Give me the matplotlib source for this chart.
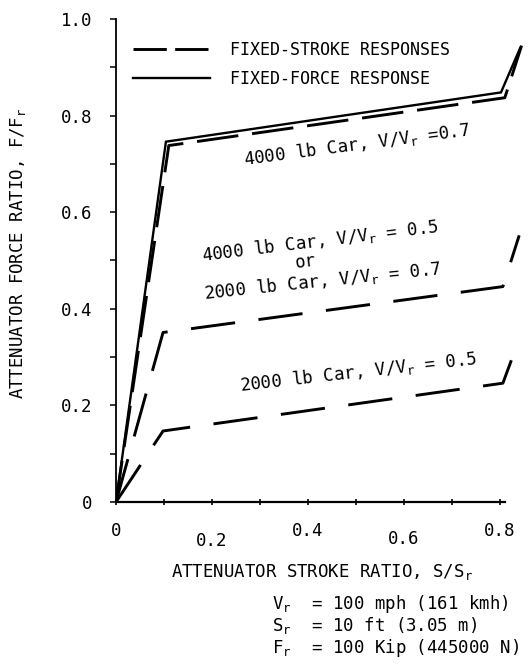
import numpy as np
import matplotlib
matplotlib.use('Agg')
import matplotlib.pyplot as plt
from matplotlib.lines import Line2D

plt.rcParams['font.family'] = ['DejaVu Sans Mono', 'DejaVu Sans']
plt.rcParams['mathtext.fontset'] = 'custom'
plt.rcParams['mathtext.rm'] = 'DejaVu Sans Mono'
plt.rcParams['lines.scale_dashes'] = False

# stroke ratio / force ratio
force_x = [0.0, 0.104, 0.802, 0.842]
force_y = [0.0, 0.746, 0.848, 0.940]

stroke_4000_07_x = [0.0, 0.110, 0.810, 0.845]
stroke_4000_07_y = [0.0, 0.738, 0.837, 0.945]

stroke_mid_x = [0.0, 0.098, 0.806, 0.840]
stroke_mid_y = [0.0, 0.351, 0.446, 0.552]

stroke_low_x = [0.0, 0.098, 0.806, 0.835]
stroke_low_y = [0.0, 0.147, 0.246, 0.324]

x_ticks = [0, 0.2, 0.4, 0.6, 0.8]
x_labels = ['0', '0.2', '0.4', '0.6', '0.8']
y_ticks = [0, 0.2, 0.4, 0.6, 0.8, 1.0]
y_labels = ['0', '0.2', '0.4', '0.6', '0.8', '1.0']

notes = [r'V$_\mathrm{r}$  = 100 mph (161 kmh)',
         r'S$_\mathrm{r}$  = 10 ft (3.05 m)',
         r'F$_\mathrm{r}$  = 100 Kip (445000 N)']

fs = 12.5
fig = plt.figure(figsize=(5.31, 6.68), dpi=100)
ax = fig.add_axes([116 / 531, 166 / 668, 408 / 531, 483 / 668])

ax.plot(force_x, force_y, color='black', lw=1.7, solid_joinstyle='miter')
ax.plot(stroke_4000_07_x, stroke_4000_07_y, color='black', lw=2.1, dashes=(30, 10))
ax.plot(stroke_mid_x, stroke_mid_y, color='black', lw=2.1, dashes=(32, 17))
ax.plot(stroke_low_x, stroke_low_y, color='black', lw=2.1, dashes=(32, 17))

ax.set_xlim(0, 0.85)
ax.set_ylim(0, 1.0)
for s in ['top', 'right']:
    ax.spines[s].set_visible(False)
ax.spines['bottom'].set_bounds(0, 0.81)
ax.spines['left'].set_bounds(0, 1.0)
ax.spines['bottom'].set_linewidth(1.6)
ax.spines['left'].set_linewidth(1.3)

ax.set_xticks(x_ticks)
ax.set_xticklabels(x_labels)
ax.set_xticks(np.arange(0.1, 0.81, 0.2), minor=True)
ax.set_yticks(y_ticks)
ax.set_yticklabels(y_labels)
ax.set_yticks(np.arange(0.1, 1.0, 0.2), minor=True)

ax.tick_params(axis='x', which='both', direction='inout', length=5, width=1.2,
               labelsize=fs, pad=12)
ax.tick_params(axis='y', which='both', direction='out', length=4.5, width=1.1,
               labelsize=fs, pad=12.5)
# typed labels sit a little lower for 0.2 and 0.6
xt = ax.xaxis.get_major_ticks()
xt[1].set_pad(19)
xt[3].set_pad(18)

ax.set_xlabel(r'ATTENUATOR STROKE RATIO, S/S$_\mathrm{r}$', fontsize=fs)
ax.xaxis.set_label_coords(0.505, -0.124)
ax.set_ylabel(r'ATTENUATOR FORCE RATIO, F/F$_\mathrm{r}$', fontsize=fs)
ax.yaxis.set_label_coords(-0.216, 0.515)

# curve labels
ax.text(0.504, 0.729, r'4000 lb Car, V/V$_\mathrm{r}$ =0.7', fontsize=fs,
        rotation=7.5, rotation_mode='anchor', ha='center', va='baseline')
ax.text(0.427, 0.530, r'4000 lb Car, V/V$_\mathrm{r}$ = 0.5', fontsize=fs,
        rotation=7, rotation_mode='anchor', ha='center', va='baseline')
ax.text(0.396, 0.487, 'or', fontsize=fs,
        rotation=7, rotation_mode='anchor', ha='center', va='baseline')
ax.text(0.431, 0.447, r'2000 lb Car, V/V$_\mathrm{r}$ = 0.7', fontsize=fs,
        rotation=6, rotation_mode='anchor', ha='center', va='baseline')
ax.text(0.506, 0.257, r'2000 lb Car, V/V$_\mathrm{r}$ = 0.5', fontsize=fs,
        rotation=6.5, rotation_mode='anchor', ha='center', va='baseline')

handles = [Line2D([], [], color='black', lw=2.1, dashes=(24, 6)),
           Line2D([], [], color='black', lw=1.7)]
ax.legend(handles, ['FIXED-STROKE RESPONSES', 'FIXED-FORCE RESPONSE'],
          loc='center left', bbox_to_anchor=(0.042, 0.906), frameon=False,
          fontsize=12, handlelength=4.6, handletextpad=1.2, labelspacing=0.7,
          borderpad=0, borderaxespad=0)

for i, line in enumerate(notes):
    fig.text(272 / 531, 1 - (604 + 22 * i) / 668, line, fontsize=fs,
             ha='left', va='center')

fig.savefig('out.png', dpi=100)
